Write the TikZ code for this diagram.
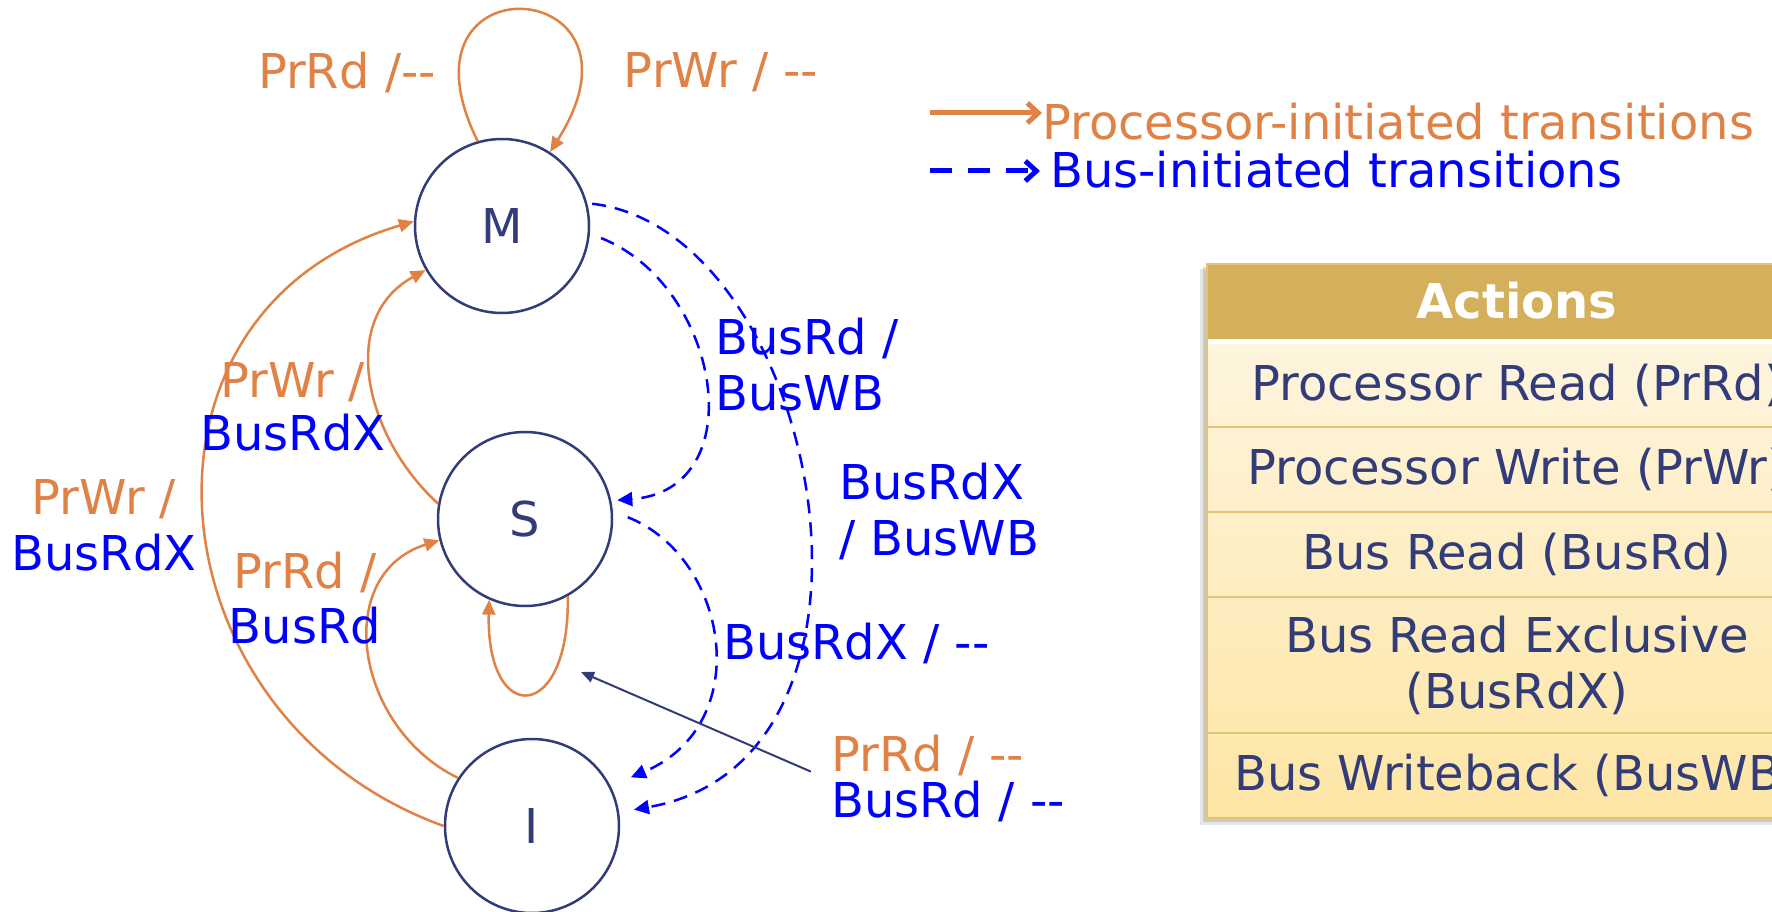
\documentclass[tikz,border=0pt]{standalone}
\usepackage{fontspec}
\setmainfont{DejaVu Sans}
\usetikzlibrary{arrows.meta}
\definecolor{prorange}{RGB}{224,130,70}
\definecolor{busblue}{RGB}{0,0,255}
\definecolor{navy}{RGB}{50,60,120}
\definecolor{gold}{RGB}{213,176,92}
\definecolor{goldline}{RGB}{227,194,122}
\definecolor{creamtop}{RGB}{254,245,222}
\definecolor{creambot}{RGB}{253,229,164}

\begin{document}
\begin{tikzpicture}[
		x=1pt, y=-1pt,
		every node/.style={font=\fontsize{48}{56}\selectfont, inner sep=0pt},
		statenode/.style={circle, draw=navy, line width=2.5pt, minimum size=174pt, text=navy},
		proc/.style={draw=prorange, line width=2.5pt, -{Triangle[length=15pt,width=13pt]}},
		bus/.style={draw=busblue, line width=2.5pt, dash pattern=on 14pt off 9pt, -{Triangle[length=15pt,width=14pt]}},
		pr/.style={text=prorange, anchor=base},
		bs/.style={text=busblue, anchor=base},
		acttext/.style={text=navy}
		]
		\useasboundingbox (0,0) rectangle (1772,912);
		\clip (0,0) rectangle (1772,912);

		\node[statenode] (m) at (502,226) {M};
		\node[statenode] (s) at (525,519) {S};
		\node[statenode] (i) at (532,826) {I};

		\draw[proc] (m.106) .. controls (386,-44) and (663,-26) .. (m.57);
		\draw[proc] (s.299) .. controls (570,724) and (486,727) .. (s.246);
		\draw[proc] (i.180) .. controls (147,719) and (112,310) .. (m.177);
		\draw[proc] (s.170) .. controls (364,436) and (338,318) .. (m.210);
		\draw[proc] (i.147) .. controls (354,727) and (332,574) .. (s.194);

		\draw[bus, shorten <=12pt, shorten >=6pt] (m.-5) .. controls (720,285) and (755,490) .. (s.12);
		\draw[bus, shorten <=5pt, shorten >=15pt] (m.15) .. controls (820,230) and (920,760) .. (i.9);
		\draw[bus, shorten <=16pt, shorten >=22pt] (s.5) .. controls (728,557) and (757,724) .. (i.27);

		\node[pr] (mrd) at (347,89) {PrRd /-{}-};
		\node[pr] (mwr) at (721,88) {PrWr / -{}-};
		\node[pr] (imwr) at (104,514) {PrWr /};
		\node[bs] (imrdx) at (104,570) {BusRdX};
		\node[pr] (smwr) at (293,397) {PrWr /};
		\node[bs] (smrdx) at (293,450) {BusRdX};
		\node[pr] (isrd) at (305,588) {PrRd /};
		\node[bs] (isbrd) at (305,643) {BusRd};
		\node[bs, anchor=base west] (msrd) at (715,354) {BusRd /};
		\node[bs, anchor=base west] (mswb) at (715,410) {BusWB};
		\node[bs, anchor=base west] (mirdx) at (839,499) {BusRdX};
		\node[bs, anchor=base west] (miwb) at (839,555) {/ BusWB};
		\node[bs, anchor=base west] (sirdx) at (723,659) {BusRdX / -{}-};
		\node[pr, anchor=base west] (ssrd) at (831,771) {PrRd / -{}-};
		\node[bs, anchor=base west] (ssbrd) at (831,817) {BusRd / -{}-};

		\coordinate (sloop) at (581,672);
		\draw[navy, line width=2pt, -{Triangle[length=13pt,width=11pt]}, shorten <=22pt] (ssbrd.north west) -- (sloop);

		\node[pr, anchor=base west] (lgpr) at (1042,140) {Processor-initiated transitions};
		\node[bs, anchor=base west] (lgbus) at (1050,188) {Bus-initiated transitions};
		\coordinate (lgprtail) at (930,113);
		\coordinate (lgbustail) at (930,171);
		\draw[prorange, line width=5pt, -{Straight Barb[length=11pt,width=20pt]}] (lgprtail) -- (lgprtail -| lgpr.west);
		\draw[busblue, line width=5pt, dash pattern=on 22pt off 16pt, -{Straight Barb[length=11pt,width=20pt]}] (lgbustail) -- ([xshift=-10pt]lgbustail -| lgbus.west);

		\fill[black, opacity=0.10] (1200,269) rectangle (1827,825);
		\fill[black, opacity=0.12] (1203,267) rectangle (1827,822);
		\fill[gold] (1207,264) rectangle (1827,339);
		\fill[white] (1207,339) rectangle (1827,344);
		\shade[top color=creamtop, bottom color=creambot] (1207,344) rectangle (1827,818);
		\foreach \yy in {427,512,597,733}
			\draw[goldline, line width=2pt] (1207,\yy) -- (1827,\yy);
		\draw[goldline, line width=2pt] (1207,264) rectangle (1827,818);

		\node[text=white, font=\fontsize{48}{56}\selectfont\bfseries] (hdr) at (1517,301) {Actions};
		\node[acttext] (prd) at (1517,385) {Processor Read (PrRd)};
		\node[acttext] (pwr) at (1517,469) {Processor Write (PrWr)};
		\node[acttext] (brd) at (1517,554) {Bus Read (BusRd)};
		\node[acttext, align=center] (brdx) at (1517,665) {Bus Read Exclusive\\(BusRdX)};
		\node[acttext] (bwb) at (1517,775) {Bus Writeback (BusWB)};
	\end{tikzpicture}
\end{document}
